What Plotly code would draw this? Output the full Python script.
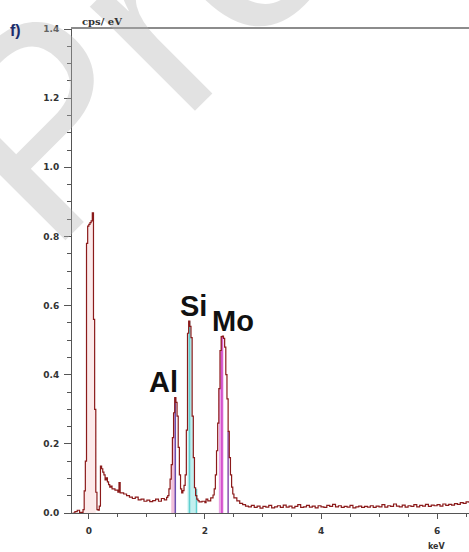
import plotly.graph_objects as go

# ---- spectrum (keV, cps/eV) ----
energy_keV = [
    -0.28, -0.24, -0.20, -0.16, -0.12, -0.10, -0.08, -0.06, -0.04, -0.02,
    0.00, 0.02, 0.04, 0.06, 0.08, 0.10, 0.12, 0.14, 0.16, 0.18,
    0.20, 0.22, 0.24, 0.26, 0.28, 0.30, 0.32, 0.34, 0.36, 0.38,
    0.40, 0.45, 0.50, 0.52, 0.54, 0.60, 0.65, 0.70, 0.75, 0.80,
    0.85, 0.90, 0.95, 1.00, 1.05, 1.10, 1.15, 1.20, 1.25, 1.30,
    1.34, 1.36, 1.38, 1.40, 1.42, 1.44, 1.46, 1.48, 1.50, 1.52,
    1.54, 1.56, 1.58, 1.60, 1.62, 1.64, 1.66, 1.68, 1.70, 1.72,
    1.74, 1.76, 1.78, 1.80, 1.82, 1.84, 1.86, 1.88, 1.90, 1.95,
    2.00, 2.02, 2.05, 2.10, 2.14, 2.16, 2.18, 2.20, 2.22, 2.24,
    2.26, 2.28, 2.30, 2.32, 2.34, 2.36, 2.38, 2.40, 2.42, 2.44,
    2.46, 2.48, 2.50, 2.55, 2.60, 2.65, 2.70, 2.75, 2.80, 2.85,
    2.90, 2.95, 3.00, 3.05, 3.10, 3.15, 3.20, 3.25, 3.30, 3.35,
    3.40, 3.45, 3.50, 3.55, 3.60, 3.65, 3.70, 3.75, 3.80, 3.85,
    3.90, 3.95, 4.00, 4.05, 4.10, 4.15, 4.20, 4.25, 4.30, 4.35,
    4.40, 4.45, 4.50, 4.55, 4.60, 4.65, 4.70, 4.75, 4.80, 4.85,
    4.90, 4.95, 5.00, 5.05, 5.10, 5.15, 5.20, 5.25, 5.30, 5.35,
    5.40, 5.45, 5.50, 5.55, 5.60, 5.65, 5.70, 5.75, 5.80, 5.85,
    5.90, 5.95, 6.00, 6.05, 6.10, 6.15, 6.20, 6.25, 6.30, 6.35,
    6.40, 6.45, 6.50, 6.55,
]
cps_per_eV = [
    0.000, 0.004, 0.008, 0.002, 0.000, 0.010, 0.064, 0.150, 0.780, 0.830,
    0.835, 0.840, 0.845, 0.868, 0.560, 0.300, 0.060, 0.010, 0.008, 0.020,
    0.136, 0.128, 0.118, 0.110, 0.096, 0.102, 0.090, 0.082, 0.075, 0.078,
    0.070, 0.066, 0.060, 0.088, 0.058, 0.055, 0.050, 0.046, 0.042, 0.046,
    0.038, 0.040, 0.034, 0.037, 0.033, 0.036, 0.040, 0.034, 0.042, 0.038,
    0.045, 0.050, 0.070, 0.098, 0.140, 0.218, 0.290, 0.334, 0.320, 0.280,
    0.190, 0.110, 0.070, 0.058, 0.065, 0.080, 0.110, 0.240, 0.520, 0.555,
    0.540, 0.507, 0.280, 0.160, 0.073, 0.050, 0.040, 0.036, 0.032, 0.034,
    0.030, 0.040, 0.035, 0.044, 0.052, 0.070, 0.110, 0.180, 0.260, 0.360,
    0.470, 0.510, 0.512, 0.505, 0.480, 0.400, 0.330, 0.236, 0.160, 0.110,
    0.075, 0.055, 0.044, 0.035, 0.028, 0.024, 0.020, 0.018, 0.022, 0.016,
    0.020, 0.014, 0.019, 0.017, 0.022, 0.015, 0.018, 0.021, 0.016, 0.023,
    0.017, 0.020, 0.015, 0.019, 0.024, 0.016, 0.018, 0.022, 0.017, 0.020,
    0.015, 0.021, 0.018, 0.016, 0.022, 0.019, 0.025, 0.018, 0.021, 0.016,
    0.019, 0.017, 0.022, 0.015, 0.018, 0.020, 0.016, 0.019, 0.017, 0.021,
    0.016, 0.020, 0.018, 0.024, 0.017, 0.021, 0.019, 0.026, 0.020, 0.018,
    0.023, 0.017, 0.021, 0.019, 0.024, 0.018, 0.022, 0.020, 0.025, 0.019,
    0.023, 0.021, 0.024, 0.020, 0.026, 0.022, 0.025, 0.023, 0.027, 0.025,
    0.030, 0.028, 0.032, 0.030,
]

# ---- element lines (keV, height) ----
line_names = ["Al Ka", "Si Ka", "Si Kb", "Mo La", "Mo Lb"]
line_keV = [1.49, 1.735, 1.855, 2.293, 2.40]
line_height = [0.334, 0.555, 0.070, 0.512, 0.236]
line_colors = ["#6a4fb0", "#5fcfcf", "#5fcfcf", "#d040c8", "#8a4fb0"]

# peak fill windows (keV)
fill_windows = [(-0.10, 0.12), (1.42, 1.50), (1.70, 1.86), (2.24, 2.32)]
fill_colors = ["rgba(240,160,160,0.22)", "rgba(230,140,190,0.55)",
               "rgba(120,220,220,0.45)", "rgba(220,90,210,0.55)"]

# element labels
label_text = ["Al", "Si", "Mo"]
label_x = [1.28, 1.81, 2.49]
label_y = [0.38, 0.60, 0.555]

fig = go.Figure()

# watermark (added first so everything else sits above it)
fig.add_annotation(xref="paper", yref="paper", x=(42 - 72) / 397, y=(513 - 128) / 484,
                   text="Journal Pre-proof", showarrow=False, xanchor="center", yanchor="middle",
                   textangle=-45,
                   font=dict(family="Liberation Sans", size=280, color="rgba(180,180,180,0.38)"))

# filled peak regions
for (lo, hi), col in zip(fill_windows, fill_colors):
    xs = [e for e in energy_keV if lo <= e <= hi]
    ys = [c for e, c in zip(energy_keV, cps_per_eV) if lo <= e <= hi]
    fig.add_trace(go.Scatter(x=xs, y=ys, mode="lines", line=dict(width=0, shape="hv"),
                             fill="tozeroy", fillcolor=col, hoverinfo="skip", showlegend=False))

# element marker lines
for e, h, c in zip(line_keV, line_height, line_colors):
    fig.add_trace(go.Scatter(x=[e, e], y=[0, h], mode="lines", line=dict(color=c, width=1.5),
                             hoverinfo="skip", showlegend=False))

# spectrum
fig.add_trace(go.Scatter(x=energy_keV, y=cps_per_eV, mode="lines",
                         line=dict(color="#8b1a1a", width=1.2, shape="hv"), showlegend=False))

# hidden trace for the top axis
fig.add_trace(go.Scatter(x=[energy_keV[0]], y=[0], xaxis="x2", mode="markers",
                         marker=dict(opacity=0), hoverinfo="skip", showlegend=False))

for t, x, y in zip(label_text, label_x, label_y):
    fig.add_annotation(x=x, y=y, text=t, showarrow=False, xanchor="center", yanchor="middle",
                       font=dict(family="Liberation Sans", size=29, color="#111111", weight="bold"))

tick_font = dict(family="DejaVu Sans", size=9, color="#333333", weight="bold")

fig.update_layout(
    width=469, height=552,
    margin=dict(l=72, r=0, t=29, b=39),
    paper_bgcolor="white", plot_bgcolor="white",
    xaxis=dict(range=[-0.29, 6.55], tickvals=[0, 2, 4, 6], ticktext=["0", "2", "4", "6"],
               ticks="outside", ticklen=5, tickcolor="#555555", tickwidth=1,
               minor=dict(dtick=0.5, tick0=0, ticks="outside", ticklen=3, tickcolor="#555555"),
               showline=True, linecolor="#555555", linewidth=1, showgrid=False, zeroline=False,
               tickfont=tick_font, ticklabelstandoff=4),
    xaxis2=dict(range=[-0.29, 6.55], overlaying="x", side="top", showline=True,
                linecolor="#8c8c8c", linewidth=2, showticklabels=False, ticks="",
                showgrid=False, zeroline=False),
    yaxis=dict(range=[0, 1.4], tickvals=[0, 0.2, 0.4, 0.6, 0.8, 1.0, 1.2, 1.4],
               ticktext=["0.0", "0.2", "0.4", "0.6", "0.8", "1.0", "1.2", "1.4"],
               ticks="outside", ticklen=7, tickcolor="#555555", tickwidth=1,
               minor=dict(dtick=0.05, tick0=0, ticks="outside", ticklen=4, tickcolor="#555555"),
               showline=True, linecolor="#555555", linewidth=1, showgrid=False, zeroline=False,
               tickfont=tick_font, ticklabelstandoff=3),
)

fig.add_annotation(xref="paper", yref="paper", x=(102 - 72) / 397, y=(513 - 22) / 484,
                   text="cps/ eV", showarrow=False, xanchor="center", yanchor="middle",
                   font=dict(family="DejaVu Serif", size=10, color="#333333", weight="bold"))
fig.add_annotation(xref="x", yref="paper", x=6.0, y=(513 - 546) / 484,
                   text="keV", showarrow=False, xanchor="center", yanchor="middle",
                   font=dict(family="DejaVu Sans", size=8, color="#333333", weight="bold"))
fig.add_annotation(xref="paper", yref="paper", x=(15 - 72) / 397, y=(513 - 31) / 484,
                   text="f)", showarrow=False, xanchor="center", yanchor="middle",
                   font=dict(family="Liberation Sans", size=16, color="#1c2c6c", weight="bold"))

fig.write_html("out.html")
